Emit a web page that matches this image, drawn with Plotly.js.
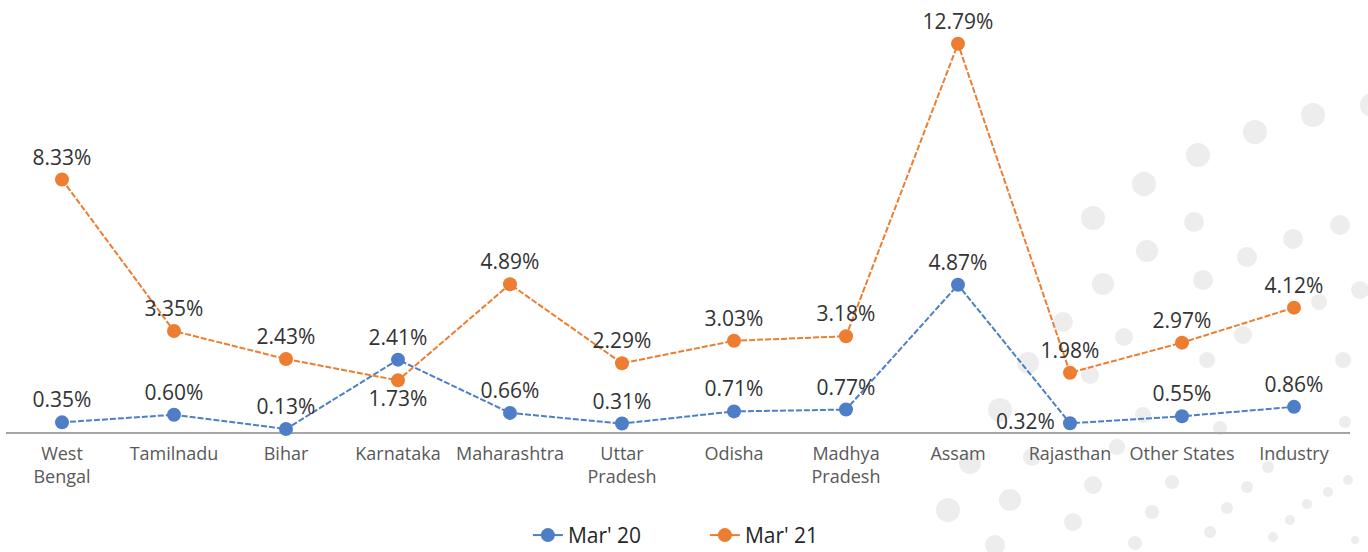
<!DOCTYPE html>
<html>
<head>
<meta charset="utf-8">
<script src="https://cdn.plot.ly/plotly-3.0.1.min.js"></script>
<style>html,body{margin:0;padding:0;background:#fff;}#chart{width:1368px;height:552px;}</style>
</head>
<body>
<div id="chart"></div>
<script>
const categories = ["West<br>Bengal","Tamilnadu","Bihar","Karnataka","Maharashtra","Uttar<br>Pradesh","Odisha","Madhya<br>Pradesh","Assam","Rajasthan","Other States","Industry"];
const mar20 = [0.35,0.60,0.13,2.41,0.66,0.31,0.71,0.77,4.87,0.32,0.55,0.86];
const mar21 = [8.33,3.35,2.43,1.73,4.89,2.29,3.03,3.18,12.79,1.98,2.97,4.12];
const seriesNames = ["Mar' 20","Mar' 21"];
const colors = ["#4E7FC6","#ED7D31"];

const pos20 = categories.map(c => c==="Rajasthan" ? "middle left" : "top center");
const pos21 = categories.map(c => c==="Karnataka" ? "bottom center" : "top center");
const txt20 = mar20.map((v,i) => v.toFixed(2)+"%" + (categories[i]==="Rajasthan" ? " " : ""));
const txt21 = mar21.map(v => v.toFixed(2)+"%");

const FONT = "Open Sans, Noto Sans, sans-serif";
const labelFont = {family:FONT, size:21, color:"#333333"};

const traces = [
  {x:categories, y:mar20, name:seriesNames[0], type:"scatter", mode:"lines+markers+text", showlegend:false,
   line:{color:colors[0], width:2, dash:"6px,2px"}, marker:{color:colors[0], size:14},
   text:txt20, textposition:pos20, textfont:labelFont, cliponaxis:false, hoverinfo:"skip"},
  {x:categories, y:mar21, name:seriesNames[1], type:"scatter", mode:"lines+markers+text", showlegend:false,
   line:{color:colors[1], width:2, dash:"6px,2px"}, marker:{color:colors[1], size:14},
   text:txt21, textposition:pos21, textfont:labelFont, cliponaxis:false, hoverinfo:"skip"},
  // legend entries (solid line style as in the original legend)
  {x:[null], y:[null], name:seriesNames[0], type:"scatter", mode:"lines+markers",
   line:{color:colors[0], width:2}, marker:{color:colors[0], size:14}},
  {x:[null], y:[null], name:seriesNames[1], type:"scatter", mode:"lines+markers",
   line:{color:colors[1], width:2}, marker:{color:colors[1], size:14}}
];

// decorative background dots (pixel positions, radius)
const dots = [
 [1313,115,12],[1255,132,12],[1198,155,12],[1144,184,12],[1093,218,12],[1194,222,10],
 [1147,251,11],[1103,284,11],[1247,257,10],[1293,239,10],[1340,225,10],[1203,280,10],
 [1372,105,12],[1360,290,9],[1063,322,10],[1124,337,9],[1243,335,9],[1028,363,11],
 [1090,375,9],[1207,360,8],[1343,360,8],[1319,302,8],[1000,410,12],[1143,415,8],
 [1220,428,7],[1345,422,6],[1117,447,8],[970,463,11],[1032,457,9],[1268,467,6],
 [1093,485,9],[1172,482,7],[1247,487,6],[1348,480,5],[948,510,12],[1010,500,11],
 [1152,512,7],[1227,508,6],[1307,504,5],[1328,492,5],[1073,522,9],[1210,532,6],
 [1290,520,5],[995,545,10],[1135,543,7],[1273,537,5],[1355,540,4]
];
const L=6, R=1350, T=7, B=433;
const px = x => (x-L)/(R-L), py = y => (B-y)/(B-T);
const shapes = dots.map(([x,y,r]) => ({type:"circle", xref:"paper", yref:"paper", layer:"below",
  x0:px(x-r), x1:px(x+r), y0:py(y+r), y1:py(y-r), fillcolor:"#EDEDED", line:{width:0}}));

const layout = {
  width:1368, height:552,
  margin:{l:L, r:1368-R, t:T, b:552-B},
  paper_bgcolor:"#fff", plot_bgcolor:"rgba(0,0,0,0)",
  showlegend:true,
  legend:{orientation:"h", x:0.52, xanchor:"center", yref:"container", y:0.03, yanchor:"middle",
          entrywidth:132, font:{family:FONT, size:21, color:"#262626"}, bgcolor:"rgba(0,0,0,0)"},
  xaxis:{type:"category", range:[-0.5,11.5], showgrid:false, zeroline:false, automargin:false,
         showline:false, ticks:"", ticklabelstandoff:8,
         tickfont:{family:FONT, size:18, color:"#595959"}, tickangle:0, fixedrange:true},
  yaxis:{range:[0,14], showgrid:false, zeroline:true, zerolinecolor:"#A6A6A6", zerolinewidth:2,
         showticklabels:false, showline:false, ticks:"", fixedrange:true, automargin:false},
  shapes:shapes,
  font:{family:FONT}
};

Plotly.newPlot("chart", traces, layout, {displayModeBar:false, staticPlot:true});
</script>
</body>
</html>
